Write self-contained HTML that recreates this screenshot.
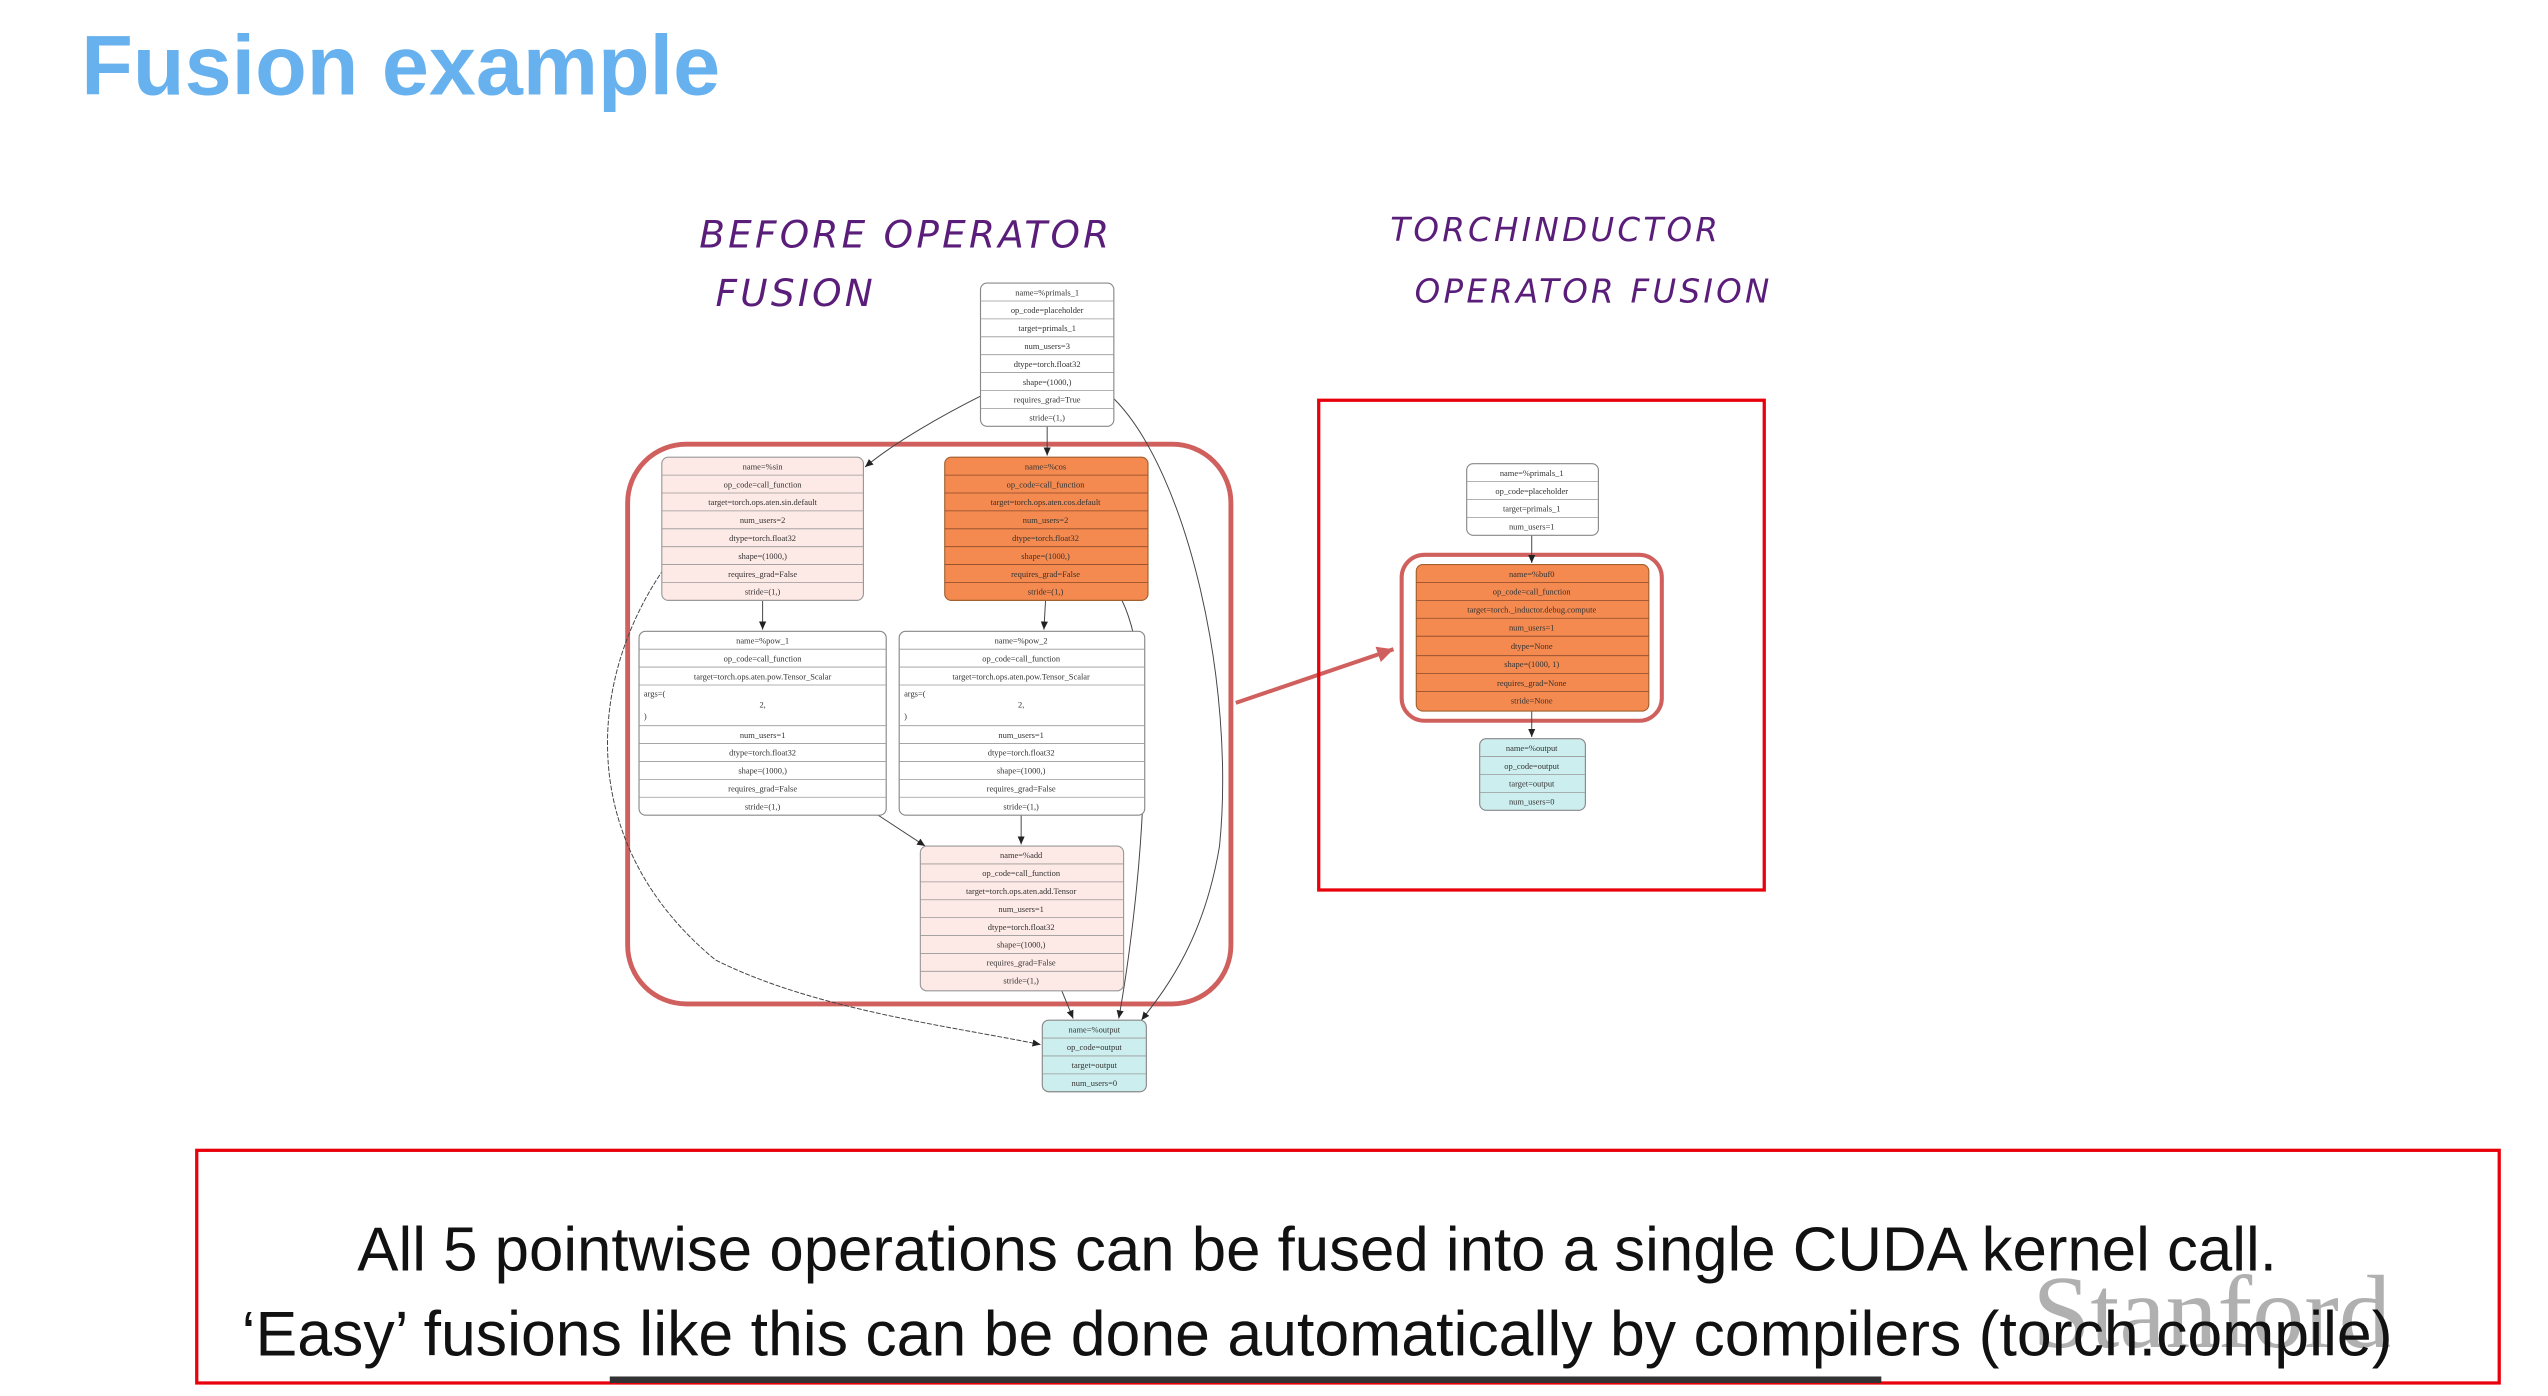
<!DOCTYPE html>
<html><head><meta charset="utf-8"><style>
html,body{margin:0;padding:0;background:#fff;}
svg{display:block;}
.t{font-family:"Liberation Serif",serif;font-size:5.2px;fill:#333;text-anchor:middle;}
.tl{font-family:"Liberation Serif",serif;font-size:5.2px;fill:#333;}
.hw{font-family:"DejaVu Sans",sans-serif;font-style:italic;fill:#5a1d7a;font-size:23px;letter-spacing:2px;}
.e{fill:none;stroke:#444;stroke-width:0.6;}
</style></head><body>
<svg width="2548" height="1396" viewBox="0 0 1567 858" preserveAspectRatio="none" xmlns="http://www.w3.org/2000/svg">
<defs><marker id="a" markerWidth="6" markerHeight="6" refX="5" refY="3" orient="auto" markerUnits="userSpaceOnUse"><path d="M0,0.8 L5,3 L0,5.2z" fill="#222"/></marker>
<marker id="r" markerWidth="12" markerHeight="12" refX="10" refY="6" orient="auto" markerUnits="userSpaceOnUse"><path d="M0,1 L10,6 L0,11z" fill="#d0605e"/></marker></defs>

<text x="50" y="58" font-family="Liberation Sans,sans-serif" font-weight="bold" font-size="52" fill="#67b1ee">Fusion example</text>

<text class="hw" x="430" y="152">BEFORE OPERATOR</text>
<text class="hw" x="440" y="188">FUSION</text>
<text class="hw" x="855" y="148" style="font-size:20px">TORCHINDUCTOR</text>
<text class="hw" x="870" y="186" style="font-size:20px">OPERATOR FUSION</text>

<rect x="386" y="273" width="371" height="344" rx="36" fill="none" stroke="#d0605e" stroke-width="3"/>

<path class="e" d="M604,243 C580,255 550,272 532,287" marker-end="url(#a)"/>
<path class="e" d="M644,262 L644,280" marker-end="url(#a)"/>
<path class="e" d="M685,245 C730,290 760,420 750,520 C740,580 715,610 702,627" marker-end="url(#a)"/>
<path class="e" d="M469,369 L469,387" marker-end="url(#a)"/>
<path class="e" d="M643,369 L642,387" marker-end="url(#a)"/>
<path class="e" d="M540,501 L569,520" marker-end="url(#a)"/>
<path class="e" d="M628,501 L628,519" marker-end="url(#a)"/>
<path class="e" d="M653,609 L660,626" marker-end="url(#a)"/>
<path class="e" d="M690,369 C715,420 700,560 688,626" marker-end="url(#a)"/>
<path class="e" d="M408,350 C360,420 355,520 440,590 C500,620 580,630 640,642" stroke-dasharray="3,1" marker-end="url(#a)"/>

<g>
<rect x="603" y="174" width="82" height="88" rx="4" fill="#fff" stroke="#888" stroke-width="0.7"/>
<path d="M603,185H685M603,196H685M603,207H685M603,218H685M603,229H685M603,240H685M603,251H685" stroke="#999" stroke-width="0.5"/>
<text class="t" x="644" y="181.5">name=%primals_1</text>
<text class="t" x="644" y="192.5">op_code=placeholder</text>
<text class="t" x="644" y="203.5">target=primals_1</text>
<text class="t" x="644" y="214.5">num_users=3</text>
<text class="t" x="644" y="225.5">dtype=torch.float32</text>
<text class="t" x="644" y="236.5">shape=(1000,)</text>
<text class="t" x="644" y="247.5">requires_grad=True</text>
<text class="t" x="644" y="258.5">stride=(1,)</text>
</g>
<g>
<rect x="407" y="281" width="124" height="88" rx="4" fill="#fde9e5" stroke="#999" stroke-width="0.7"/>
<path d="M407,292H531M407,303H531M407,314H531M407,325H531M407,336H531M407,347H531M407,358H531" stroke="#999" stroke-width="0.5"/>
<text class="t" x="469" y="288.5">name=%sin</text>
<text class="t" x="469" y="299.5">op_code=call_function</text>
<text class="t" x="469" y="310.5">target=torch.ops.aten.sin.default</text>
<text class="t" x="469" y="321.5">num_users=2</text>
<text class="t" x="469" y="332.5">dtype=torch.float32</text>
<text class="t" x="469" y="343.5">shape=(1000,)</text>
<text class="t" x="469" y="354.5">requires_grad=False</text>
<text class="t" x="469" y="365.5">stride=(1,)</text>
</g>
<g>
<rect x="581" y="281" width="125" height="88" rx="4" fill="#f48a50" stroke="#a06030" stroke-width="0.7"/>
<path d="M581,292H706M581,303H706M581,314H706M581,325H706M581,336H706M581,347H706M581,358H706" stroke="#8a4a2a" stroke-width="0.5"/>
<text class="t" x="643" y="288.5">name=%cos</text>
<text class="t" x="643" y="299.5">op_code=call_function</text>
<text class="t" x="643" y="310.5">target=torch.ops.aten.cos.default</text>
<text class="t" x="643" y="321.5">num_users=2</text>
<text class="t" x="643" y="332.5">dtype=torch.float32</text>
<text class="t" x="643" y="343.5">shape=(1000,)</text>
<text class="t" x="643" y="354.5">requires_grad=False</text>
<text class="t" x="643" y="365.5">stride=(1,)</text>
</g>
<g>
<rect x="393" y="388" width="152" height="113" rx="4" fill="#fff" stroke="#888" stroke-width="0.7"/>
<path d="M393,399H545M393,410H545M393,421H545M393,446H545M393,457H545M393,468H545M393,479H545M393,490H545" stroke="#999" stroke-width="0.5"/>
<text class="t" x="469" y="395.5">name=%pow_1</text>
<text class="t" x="469" y="406.5">op_code=call_function</text>
<text class="t" x="469" y="417.5">target=torch.ops.aten.pow.Tensor_Scalar</text>
<text class="tl" x="396" y="428">args=(</text>
<text class="t" x="469" y="435">2,</text>
<text class="tl" x="396" y="442">)</text>
<text class="t" x="469" y="453.5">num_users=1</text>
<text class="t" x="469" y="464.5">dtype=torch.float32</text>
<text class="t" x="469" y="475.5">shape=(1000,)</text>
<text class="t" x="469" y="486.5">requires_grad=False</text>
<text class="t" x="469" y="497.5">stride=(1,)</text>
</g>
<g>
<rect x="553" y="388" width="151" height="113" rx="4" fill="#fff" stroke="#888" stroke-width="0.7"/>
<path d="M553,399H704M553,410H704M553,421H704M553,446H704M553,457H704M553,468H704M553,479H704M553,490H704" stroke="#999" stroke-width="0.5"/>
<text class="t" x="628" y="395.5">name=%pow_2</text>
<text class="t" x="628" y="406.5">op_code=call_function</text>
<text class="t" x="628" y="417.5">target=torch.ops.aten.pow.Tensor_Scalar</text>
<text class="tl" x="556" y="428">args=(</text>
<text class="t" x="628" y="435">2,</text>
<text class="tl" x="556" y="442">)</text>
<text class="t" x="628" y="453.5">num_users=1</text>
<text class="t" x="628" y="464.5">dtype=torch.float32</text>
<text class="t" x="628" y="475.5">shape=(1000,)</text>
<text class="t" x="628" y="486.5">requires_grad=False</text>
<text class="t" x="628" y="497.5">stride=(1,)</text>
</g>
<g>
<rect x="566" y="520" width="125" height="89" rx="4" fill="#fde9e5" stroke="#999" stroke-width="0.7"/>
<path d="M566,531H691M566,542H691M566,553H691M566,564H691M566,575H691M566,586H691M566,597H691" stroke="#999" stroke-width="0.5"/>
<text class="t" x="628" y="527.5">name=%add</text>
<text class="t" x="628" y="538.5">op_code=call_function</text>
<text class="t" x="628" y="549.5">target=torch.ops.aten.add.Tensor</text>
<text class="t" x="628" y="560.5">num_users=1</text>
<text class="t" x="628" y="571.5">dtype=torch.float32</text>
<text class="t" x="628" y="582.5">shape=(1000,)</text>
<text class="t" x="628" y="593.5">requires_grad=False</text>
<text class="t" x="628" y="604.5">stride=(1,)</text>
</g>
<g>
<rect x="641" y="627" width="64" height="44" rx="4" fill="#cdeeee" stroke="#888" stroke-width="0.7"/>
<path d="M641,638H705M641,649H705M641,660H705" stroke="#999" stroke-width="0.5"/>
<text class="t" x="673" y="634.5">name=%output</text>
<text class="t" x="673" y="645.5">op_code=output</text>
<text class="t" x="673" y="656.5">target=output</text>
<text class="t" x="673" y="667.5">num_users=0</text>
</g>

<path d="M760,432 L857,399" stroke="#d0605e" stroke-width="2.5" fill="none" marker-end="url(#r)"/>

<rect x="811" y="246" width="274" height="301" fill="none" stroke="#e8000a" stroke-width="2"/>
<rect x="862" y="341" width="160" height="102" rx="14" fill="none" stroke="#d0605e" stroke-width="2.5"/>
<path class="e" d="M942,329 L942,346" marker-end="url(#a)"/>
<path class="e" d="M942,437 L942,453" marker-end="url(#a)"/>
<g>
<rect x="902" y="285" width="81" height="44" rx="4" fill="#fff" stroke="#888" stroke-width="0.7"/>
<path d="M902,296H983M902,307H983M902,318H983" stroke="#999" stroke-width="0.5"/>
<text class="t" x="942" y="292.5">name=%primals_1</text>
<text class="t" x="942" y="303.5">op_code=placeholder</text>
<text class="t" x="942" y="314.5">target=primals_1</text>
<text class="t" x="942" y="325.5">num_users=1</text>
</g>
<g>
<rect x="871" y="347" width="143" height="90" rx="4" fill="#f48a50" stroke="#a06030" stroke-width="0.7"/>
<path d="M871,358H1014M871,369H1014M871,380H1014M871,391H1014M871,403H1014M871,414H1014M871,425H1014" stroke="#8a4a2a" stroke-width="0.5"/>
<text class="t" x="942" y="354.5">name=%buf0</text>
<text class="t" x="942" y="365.5">op_code=call_function</text>
<text class="t" x="942" y="376.5">target=torch._inductor.debug.compute</text>
<text class="t" x="942" y="387.5">num_users=1</text>
<text class="t" x="942" y="399">dtype=None</text>
<text class="t" x="942" y="410">shape=(1000, 1)</text>
<text class="t" x="942" y="421.5">requires_grad=None</text>
<text class="t" x="942" y="432.5">stride=None</text>
</g>
<g>
<rect x="910" y="454" width="65" height="44" rx="4" fill="#cdeeee" stroke="#888" stroke-width="0.7"/>
<path d="M910,465H975M910,476H975M910,487H975" stroke="#999" stroke-width="0.5"/>
<text class="t" x="942" y="461.5">name=%output</text>
<text class="t" x="942" y="472.5">op_code=output</text>
<text class="t" x="942" y="483.5">target=output</text>
<text class="t" x="942" y="494.5">num_users=0</text>
</g>

<text x="1250" y="828" font-family="Liberation Serif,serif" font-size="64" fill="#b0b0b0">Stanford</text>
<rect x="121" y="707" width="1416" height="143" fill="none" stroke="#e8000a" stroke-width="2"/>
<text x="810" y="781" text-anchor="middle" font-family="Liberation Sans,sans-serif" font-size="38" fill="#111">All 5 pointwise operations can be fused into a single CUDA kernel call.</text>
<text x="810" y="833" text-anchor="middle" font-family="Liberation Sans,sans-serif" font-size="38.5" fill="#111">‘Easy’ fusions like this can be done automatically by compilers (torch.compile)</text>
<rect x="375" y="846" width="782" height="4" fill="#333"/>
</svg>
</body></html>
